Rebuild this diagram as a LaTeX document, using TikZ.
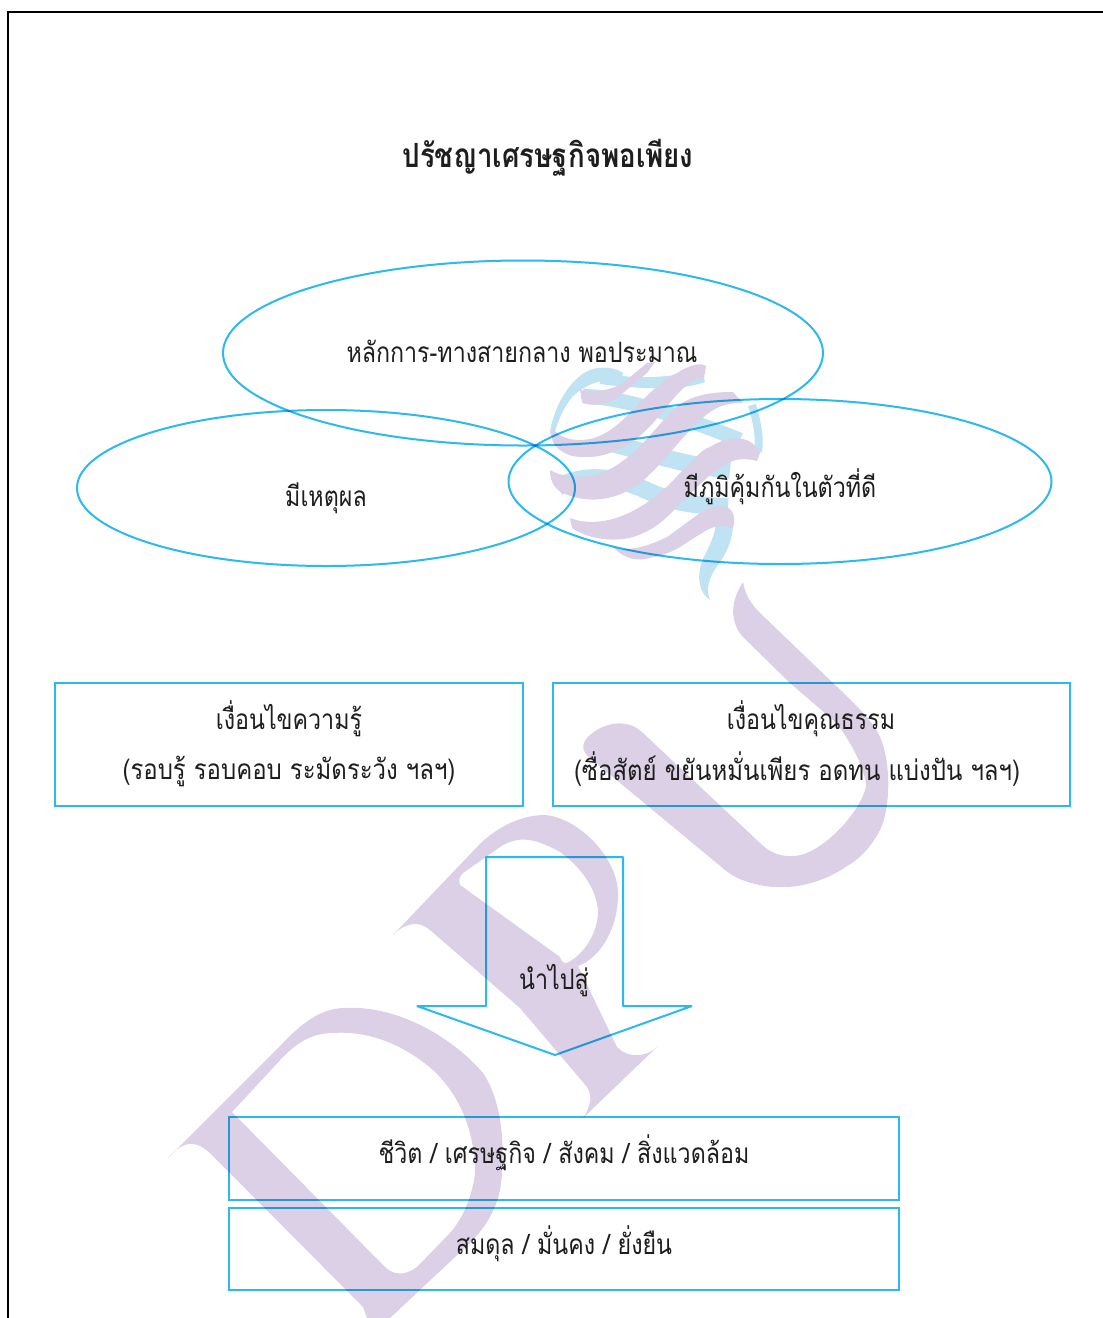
\documentclass[tikz,border=0pt]{standalone}
\usepackage{fontspec}
\usetikzlibrary{shapes.geometric}
\newfontfamily\thaifont[Script=Thai,FakeStretch=0.83]{Loma}
\definecolor{wmpurple}{HTML}{DBD0E5}
\definecolor{wmblue}{HTML}{BFE3F2}
\definecolor{linecol}{HTML}{2CB9F0}
\definecolor{inkcol}{HTML}{1E1E1E}
\tikzset{
  wmfill/.style={fill=wmpurple,draw=none,even odd rule},
  bandb/.style={draw=wmblue,line cap=butt,line join=round},
  outlinebox/.style={draw=linecol,line width=1.5pt,rectangle,inner sep=0pt,outer sep=0pt},
  ring/.style={draw=linecol,line width=1.5pt,ellipse,inner sep=0pt,outer sep=0pt},
  label/.style={text=inkcol,font=\thaifont\fontsize{21pt}{38pt}\selectfont,align=center,inner sep=0pt},
  widelabel/.style={label,transform shape,xscale=1.03},
}
\begin{document}
\begin{tikzpicture}[x=0.75pt,y=-0.75pt]
\useasboundingbox (0,0) rectangle (1103,1318);
\fill[white] (0,0) rectangle (1103,1318);
% globe blue bands
\fill[wmblue] (550,433) .. controls (553,408) and (570,378) .. (590,370) .. controls (600,366) and (615,367) .. (623,373) -- (620,381) .. controls (600,378) and (585,385) .. (572,397) .. controls (562,410) and (556,425) .. (553,440) -- cycle;
\fill[wmblue] (600,372) .. controls (630,380) and (670,378) .. (702,370) -- (705,382) .. controls (680,392) and (630,388) .. (600,384) -- cycle;
\begin{scope}[bandb]
\draw[line width=11pt] (583,396) .. controls (630,398) and (690,420) .. (740,440);
\draw[line width=13pt] (610,443) .. controls (640,450) and (680,465) .. (730,470);
\draw[line width=13pt] (558,487) .. controls (580,475) and (610,473) .. (650,492) .. controls (680,505) and (700,505) .. (728,507);
\draw[line width=6pt] (752,405) .. controls (758,425) and (760,440) .. (758,452);
\end{scope}
\fill[wmblue] (722,500) .. controls (738,515) and (736,540) .. (718,565) .. controls (708,578) and (706,590) .. (710,600) .. controls (696,590) and (697,570) .. (705,555) .. controls (715,535) and (720,520) .. (712,505) -- cycle;
% globe purple bands
\fill[wmpurple] (580,390) .. controls (595,393) and (612,390) .. (623,383) -- (647,363) -- (655,362) -- (647,373) -- (617,398) .. controls (605,405) and (590,407) .. (582,402) -- cycle;
\fill[wmpurple] (552,427) .. controls (557,437) and (570,440) .. (580,440) .. controls (600,440) and (615,428) .. (630,413) .. controls (650,392) and (665,378) .. (677,373) .. controls (690,365) and (700,362) .. (706,366) -- (704,378) .. controls (695,378) and (692,382) .. (687,385) .. controls (672,398) and (665,410) .. (653,423) .. controls (640,437) and (630,445) .. (617,450) .. controls (600,458) and (585,458) .. (572,456) .. controls (560,452) and (552,445) .. (552,437) -- cycle;
\fill[wmpurple] (550,470) .. controls (560,476) and (575,478) .. (590,476) .. controls (610,472) and (622,462) .. (633,453) .. controls (650,437) and (660,423) .. (673,410) .. controls (687,397) and (705,392) .. (733,392) -- (743,403) .. controls (730,403) and (720,405) .. (710,412) .. controls (692,425) and (675,448) .. (657,467) .. controls (645,480) and (635,488) .. (623,493) .. controls (605,501) and (585,502) .. (565,494) .. controls (555,490) and (550,482) .. (550,470) -- cycle;
\fill[wmpurple] (570,518) .. controls (585,524) and (610,525) .. (640,507) .. controls (660,495) and (672,482) .. (680,473) .. controls (695,460) and (700,450) .. (710,447) .. controls (725,437) and (750,432) .. (760,453) -- (757,461) .. controls (745,458) and (735,458) .. (725,465) .. controls (710,472) and (695,490) .. (667,517) .. controls (655,528) and (645,533) .. (633,537) .. controls (615,542) and (590,540) .. (572,528) -- cycle;
\fill[wmpurple] (613,547) .. controls (625,552) and (645,548) .. (667,537) .. controls (680,528) and (690,520) .. (700,513) .. controls (712,505) and (725,504) .. (731,510) .. controls (735,516) and (735,522) .. (733,528) .. controls (725,524) and (715,526) .. (707,530) .. controls (695,537) and (688,542) .. (680,547) .. controls (670,553) and (660,556) .. (653,557) .. controls (640,562) and (625,560) .. (613,547) -- cycle;
% letter D
\path[wmfill]
 (168,1158) -- (283,1043) .. controls (300,1025) and (320,1008) .. (345,1008)
 .. controls (400,1005) and (455,1040) .. (483,1073)
 .. controls (505,1105) and (505,1160) .. (500,1190)
 .. controls (495,1215) and (480,1233) .. (470,1243)
 -- (390,1318) -- (367,1318) -- (363,1307) -- (210,1153)
 .. controls (198,1142) and (185,1138) .. (168,1158) -- cycle
 (232,1112) -- (283,1057) .. controls (295,1045) and (310,1033) .. (333,1033)
 .. controls (375,1030) and (410,1050) .. (433,1070)
 .. controls (465,1100) and (475,1140) .. (475,1173)
 .. controls (472,1200) and (460,1222) .. (450,1233)
 -- (417,1267) .. controls (405,1276) and (393,1276) .. (383,1265) -- cycle;
% letter P
\path[wmfill]
 (393,935) -- (477,847) .. controls (495,828) and (520,815) .. (545,815)
 .. controls (580,818) and (620,860) .. (618,897)
 .. controls (617,930) and (600,958) .. (578,966)
 -- (617,1047) .. controls (627,1058) and (645,1058) .. (657,1047)
 -- (583,1118) .. controls (592,1105) and (592,1095) .. (587,1087)
 -- (520,1008) -- (430,930) .. controls (418,920) and (405,923) .. (393,935) -- cycle
 (460,885) .. controls (458,880) and (460,876) .. (463,873) -- (503,845)
 .. controls (520,836) and (535,838) .. (560,852)
 .. controls (580,866) and (598,890) .. (598,913)
 .. controls (597,935) and (583,955) .. (567,963)
 .. controls (563,964) and (561,960) .. (560,957) -- cycle;
% letter U
\path[wmfill]
 (743,582) .. controls (745,595) and (752,605) .. (760,613)
 -- (833,683) .. controls (860,708) and (875,725) .. (880,737)
 .. controls (892,765) and (890,810) .. (880,830)
 .. controls (870,850) and (855,862) .. (847,866)
 .. controls (825,882) and (790,892) .. (760,885)
 .. controls (745,882) and (735,878) .. (725,870)
 -- (590,758) .. controls (580,750) and (582,742) .. (590,735)
 .. controls (605,722) and (628,718) .. (643,733)
 -- (760,843) .. controls (775,858) and (795,860) .. (813,850)
 .. controls (835,838) and (860,810) .. (866,787)
 .. controls (866,770) and (848,735) .. (833,720)
 -- (790,683) -- (743,637) .. controls (732,625) and (728,605) .. (743,582) -- cycle;
% frame
\draw[black,line width=1.5pt] (8,1318) -- (8,12) -- (1103,12);
% diagram
\begin{scope}[blend mode=multiply]
\node[ring,minimum width=450pt,minimum height=138.75pt] (center) at (523,353) {};
\node[ring,minimum width=373.5pt,minimum height=117pt] (reason) at (326,488) {};
\node[ring,minimum width=407.25pt,minimum height=123.75pt] (immune) at (780,481.5) {};
\node[outlinebox,minimum width=351pt,minimum height=92.25pt] (know) at (289,744.5) {};
\node[outlinebox,minimum width=387.75pt,minimum height=92.25pt] (moral) at (811.5,744.5) {};
\node[outlinebox,minimum width=502.5pt,minimum height=62.25pt] (life) at (564,1158.5) {};
\node[outlinebox,minimum width=502.5pt,minimum height=61.5pt] (balance) at (564,1249) {};
\draw[linecol,line width=1.5pt,line join=bevel] (486,857) -- (623,857) -- (623,1006) -- (692,1006) -- (555,1055) -- (417,1006) -- (486,1006) -- cycle;
\end{scope}
% texts
\node[label,font=\thaifont\bfseries\fontsize{25pt}{30pt}\selectfont] (title) at (548,158) {ปรัชญาเศรษฐกิจพอเพียง};
\node[label] (tcenter) at (522,351) {หลักการ-ทางสายกลาง พอประมาณ};
\node[label] (treason) at (326,498) {มีเหตุผล};
\node[label] (timmune) at (780,487) {มีภูมิคุ้มกันในตัวที่ดี};
\node[label] (tknowa) at (289,719) {เงื่อนไขความรู้};
\node[widelabel] (tknowb) at (289,771) {(รอบรู้ รอบคอบ ระมัดระวัง ฯลฯ)};
\node[label] (tmorala) at (811,719) {เงื่อนไขคุณธรรม};
\node[widelabel] (tmoralb) at (797,769) {(ซื่อสัตย์ ขยันหมั่นเพียร อดทน แบ่งปัน ฯลฯ)};
\node[label] (tlead) at (554,981) {นำไปสู่};
\node[label] (tlife) at (564,1153) {ชีวิต / เศรษฐกิจ / สังคม / สิ่งแวดล้อม};
\node[label] (tbalance) at (564,1244) {สมดุล / มั่นคง / ยั่งยืน};
\end{tikzpicture}
\end{document}
